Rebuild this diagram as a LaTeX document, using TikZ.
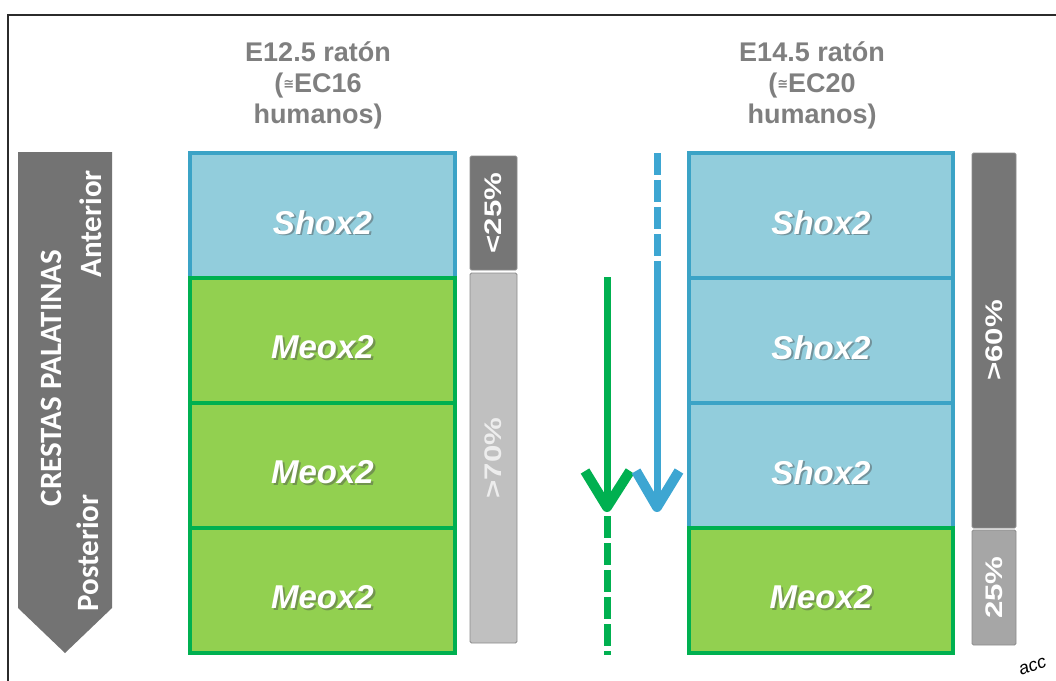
\documentclass[tikz,border=0pt]{standalone}
\usepackage{fontspec}
\setmainfont{Liberation Sans}
\newfontfamily\calib{Carlito}
\newfontfamily\djv{DejaVu Sans}
\definecolor{bluefill}{HTML}{92CDDC}
\definecolor{blueline}{HTML}{3BA3C6}
\definecolor{greenfill}{HTML}{92D050}
\definecolor{greenline}{HTML}{00B050}
\definecolor{darkbar}{HTML}{767676}
\definecolor{lightbar}{HTML}{C0C0C0}
\definecolor{midbar}{HTML}{A6A6A6}
\definecolor{titlegray}{HTML}{7F7F7F}
\definecolor{arrowgray}{HTML}{737373}
\definecolor{arrowblue}{HTML}{3DA6D2}
\definecolor{framecol}{HTML}{2B2B2B}
\newcommand{\pctstretch}[1]{\scalebox{1.3}[1]{#1}}
\tikzset{
  genebox/.style={draw, line width=4pt, inner sep=0pt, minimum height=125pt},
  shoxbox/.style={genebox, fill=bluefill, draw=blueline},
  meoxbox/.style={genebox, fill=greenfill, draw=greenline},
  genelabel/.style={text=white, font=\fontsize{33}{33}\selectfont\bfseries\itshape, inner sep=0pt},
  geneshadow/.style={text=black!70, opacity=0.45, font=\fontsize{33}{33}\selectfont\bfseries\itshape, inner sep=0pt},
  pctbar/.style={draw=black!45, line width=0.8pt, rounded corners=1.5pt, inner sep=0pt},
  pctlabel/.style={text=white, rotate=90, font=\fontsize{24}{24}\selectfont\bfseries, inner sep=0pt},
  titletext/.style={text=titlegray, align=center, font=\fontsize{27}{31}\selectfont\bfseries, inner sep=0pt},
  sidetext/.style={text=white, rotate=90, font=\calib\fontsize{31}{31}\selectfont\bfseries, inner sep=0pt},
  shaft/.style={line width=7pt},
  dashshaft/.style={line width=7pt, dash pattern=on 22pt off 5pt},
  chevron/.style={line width=10pt, line join=round, line cap=butt},
}
\begin{document}
\begin{tikzpicture}[x=1pt,y=-1pt]
\useasboundingbox (0,0) rectangle (1056,680);
% frame
\draw[framecol, line width=2.5pt] (8,690) -- (8,15) -- (1066,15);

% side arrow
\fill[arrowgray] (18,152) -- (112,152) -- (112,608) -- (65,653) -- (18,608) -- cycle;
\node[sidetext] (crestas) at (51,378) {CRESTAS PALATINAS};
\node[sidetext] (anterior) at (91,224) {Anterior};
\node[sidetext] (posterior) at (88,553) {Posterior};

% titles
\node[titletext] (t1) at (318,85) {E12.5 ratón\\(\raisebox{4pt}{\djv\fontsize{13}{13}\selectfont ≅}EC16\\humanos)};
\node[titletext] (t2) at (812,85) {E14.5 ratón\\(\raisebox{4pt}{\djv\fontsize{13}{13}\selectfont ≅}EC20\\humanos)};

% left column
\node[shoxbox, minimum width=265pt] (l1) at (322.5,215.5) {};
\node[meoxbox, minimum width=265pt] (l2) at (322.5,340.5) {};
\node[meoxbox, minimum width=265pt] (l3) at (322.5,465.5) {};
\node[meoxbox, minimum width=265pt] (l4) at (322.5,590.5) {};
% right column
\node[shoxbox, minimum width=264pt] (r1) at (821,215.5) {};
\node[shoxbox, minimum width=264pt] (r2) at (821,340.5) {};
\node[shoxbox, minimum width=264pt] (r3) at (821,465.5) {};
\node[meoxbox, minimum width=264pt] (r4) at (821,590.5) {};

% labels with shadow
\foreach \n/\t in {l1/Shox2, l2/Meox2, l3/Meox2, l4/Meox2, r1/Shox2, r2/Shox2, r3/Shox2, r4/Meox2}{
  \node[geneshadow] (\n s) at ([shift={(2pt,-8.5pt)}]\n.center) {\t};
  \node[genelabel] (\n l) at ([shift={(0pt,-7pt)}]\n.center) {\t};
}

% percentage bars
\node[pctbar, fill=darkbar, minimum width=47pt, minimum height=114pt] (pl1) at (493.5,213) {};
\node[pctbar, fill=lightbar, minimum width=47pt, minimum height=370pt] (pl2) at (493.5,458) {};
\node[pctbar, fill=darkbar, minimum width=44pt, minimum height=375pt] (pr1) at (994,340.5) {};
\node[pctbar, fill=midbar, minimum width=44pt, minimum height=115pt] (pr2) at (994,587.5) {};
\node[pctlabel] (lp1) at (pl1.center) {\pctstretch{<25\%}};
\node[pctlabel, text=white!93!black] (lp2) at (pl2.center) {\pctstretch{>70\%}};
\node[pctlabel] (lp3) at (pr1.center) {\pctstretch{>60\%}};
\node[pctlabel] (lp4) at (pr2.center) {\pctstretch{25\%}};

% middle arrows
\coordinate (gtop) at (607,277);
\coordinate (gtip) at (607,507);
\coordinate (gdash1) at (607,516);
\coordinate (gdash2) at (607,655);
\coordinate (gl) at (585,471);
\coordinate (gr) at (630,471);
\draw[greenline, shaft] (gtop) -- (607,500);
\draw[greenline, chevron] (gl) -- (gtip) -- (gr);
\draw[greenline, dashshaft] (gdash1) -- (gdash2);

\coordinate (btop) at (657,153);
\coordinate (bmid) at (657,270);
\coordinate (btip) at (657,507);
\coordinate (bl) at (636,471);
\coordinate (br) at (679,471);
\draw[arrowblue, dashshaft] (btop) -- (bmid);
\draw[arrowblue, shaft] (bmid) -- (657,500);
\draw[arrowblue, chevron] (bl) -- (btip) -- (br);

% handwritten fragment
\node[anchor=base west, rotate=20, inner sep=0pt, font=\rmfamily\itshape\fontsize{18}{18}\selectfont] (acc) at (1021,676) {acc};
\end{tikzpicture}
\end{document}
